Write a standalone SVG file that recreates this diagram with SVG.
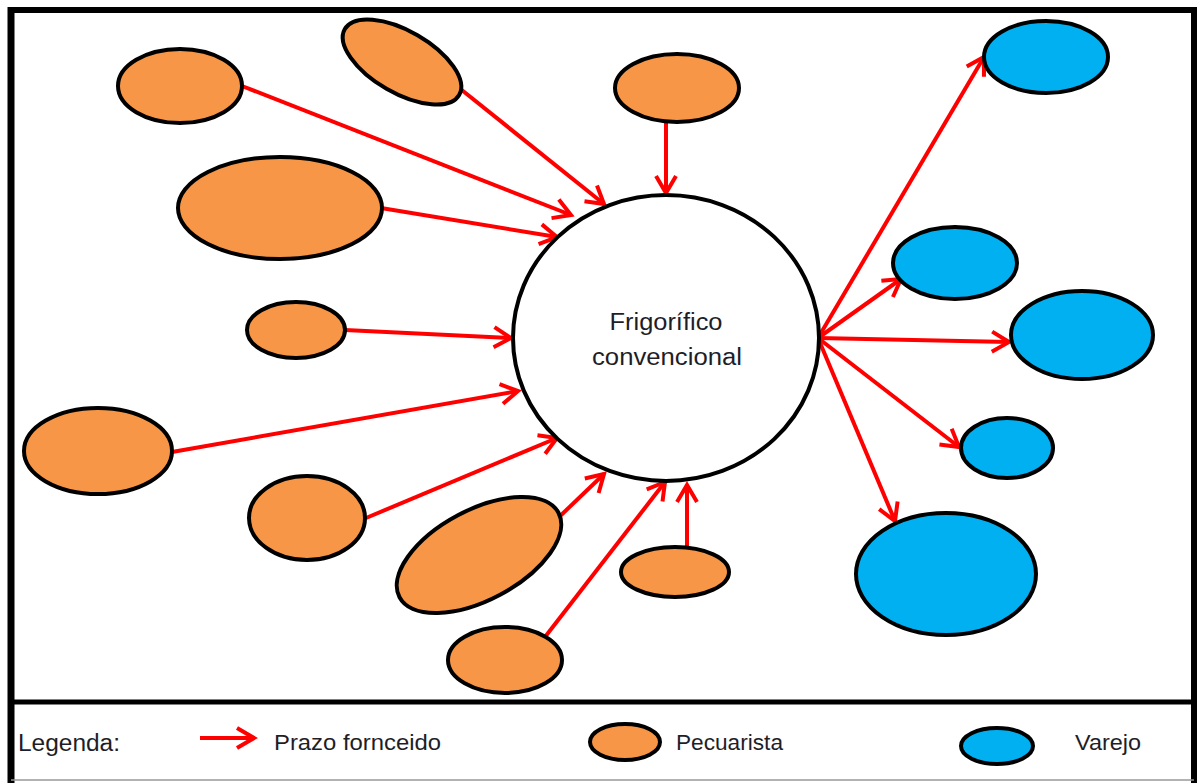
<svg xmlns="http://www.w3.org/2000/svg" width="1200" height="783" viewBox="0 0 1200 783">
  <style>
    .pec { fill: #F79646; stroke: #000; stroke-width: 4; }
    .var { fill: #00B0F0; stroke: #000; stroke-width: 4; }
    .conn line { stroke: #FF0000; stroke-width: 4; marker-end: url(#arr); }
    .lbl { font-family: "Liberation Sans", Arial, sans-serif; fill: #1e1e28; }
  </style>
  <defs>
    <marker id="arr" markerUnits="userSpaceOnUse" markerWidth="24" markerHeight="24" viewBox="0 0 24 24" refX="20" refY="12" orient="auto" overflow="visible">
      <path d="M3,2 L20,12 L3,22" fill="none" stroke="#FF0000" stroke-width="4"/>
    </marker>
  </defs>
  <rect x="0" y="0" width="1200" height="783" fill="#fff"/>
  <g id="frame" fill="none" stroke="#000">
    <line x1="11" y1="7" x2="11" y2="783" stroke-width="7"/>
    <line x1="1194" y1="7" x2="1194" y2="783" stroke-width="6"/>
    <line x1="8" y1="10" x2="1197" y2="10" stroke-width="6"/>
    <line x1="11" y1="702" x2="1194" y2="702" stroke-width="5"/>
    <line x1="11" y1="780" x2="1194" y2="780" stroke="#999" stroke-width="1.5"/>
  </g>
  <g class="conn" id="connectors">
    <line x1="242" y1="86" x2="571" y2="215"/>
    <line x1="458" y1="87" x2="604" y2="204"/>
    <line x1="666" y1="122" x2="666" y2="193"/>
    <line x1="381" y1="208" x2="557" y2="237"/>
    <line x1="345" y1="330" x2="511" y2="338"/>
    <line x1="172" y1="452" x2="518" y2="391"/>
    <line x1="366" y1="518" x2="557" y2="438"/>
    <line x1="557" y1="519" x2="604" y2="474"/>
    <line x1="545" y1="637" x2="665" y2="482"/>
    <line x1="687" y1="548" x2="687" y2="485"/>
    <line x1="818" y1="338" x2="984" y2="57"/>
    <line x1="818" y1="338" x2="901" y2="279"/>
    <line x1="818" y1="338" x2="1009" y2="342"/>
    <line x1="818" y1="338" x2="959" y2="447"/>
    <line x1="818" y1="338" x2="895" y2="521"/>
  </g>
  <g id="frigorifico">
    <ellipse cx="666" cy="338" rx="153" ry="143" fill="#fff" stroke="#000" stroke-width="4"/>
    <text class="lbl" x="666" y="330" font-size="23" text-anchor="middle" textLength="113" lengthAdjust="spacingAndGlyphs">Frigorífico</text>
    <text class="lbl" x="667" y="365" font-size="23" text-anchor="middle" textLength="150" lengthAdjust="spacingAndGlyphs">convencional</text>
  </g>
  <g id="pec1"><ellipse class="pec" cx="180" cy="86" rx="62" ry="37"/></g>
  <g id="pec2"><ellipse class="pec" cx="0" cy="0" rx="66" ry="31" transform="translate(402,62) rotate(30)"/></g>
  <g id="pec3"><ellipse class="pec" cx="677" cy="88" rx="62" ry="34"/></g>
  <g id="pec4"><ellipse class="pec" cx="280" cy="208" rx="102" ry="51"/></g>
  <g id="pec5"><ellipse class="pec" cx="296" cy="330" rx="49" ry="28"/></g>
  <g id="pec6"><ellipse class="pec" cx="98" cy="451" rx="74" ry="43"/></g>
  <g id="pec7"><ellipse class="pec" cx="307" cy="518" rx="58" ry="42"/></g>
  <g id="pec8"><ellipse class="pec" cx="0" cy="0" rx="90" ry="45" transform="translate(479,555) rotate(-28)"/></g>
  <g id="pec9"><ellipse class="pec" cx="675" cy="572" rx="54" ry="25"/></g>
  <g id="pec10"><ellipse class="pec" cx="505" cy="660" rx="57" ry="33"/></g>
  <g id="var1"><ellipse class="var" cx="1046" cy="57" rx="62" ry="36"/></g>
  <g id="var2"><ellipse class="var" cx="955" cy="263" rx="62" ry="36"/></g>
  <g id="var3"><ellipse class="var" cx="1082" cy="335" rx="71" ry="44"/></g>
  <g id="var4"><ellipse class="var" cx="1007" cy="448" rx="46" ry="30"/></g>
  <g id="var5"><ellipse class="var" cx="946" cy="574" rx="90" ry="61"/></g>
  <g id="legend">
    <text class="lbl" x="18" y="751" font-size="23" textLength="102" lengthAdjust="spacingAndGlyphs">Legenda:</text>
    <g class="conn"><line x1="200" y1="738" x2="254" y2="738"/></g>
    <text class="lbl" x="274" y="750" font-size="22" textLength="167" lengthAdjust="spacingAndGlyphs">Prazo fornceido</text>
    <ellipse class="pec" cx="625" cy="742" rx="35" ry="18"/>
    <text class="lbl" x="676" y="750" font-size="22" textLength="107" lengthAdjust="spacingAndGlyphs">Pecuarista</text>
    <ellipse class="var" cx="997" cy="746" rx="36" ry="18"/>
    <text class="lbl" x="1075" y="750" font-size="22" textLength="66" lengthAdjust="spacingAndGlyphs">Varejo</text>
  </g>
</svg>
